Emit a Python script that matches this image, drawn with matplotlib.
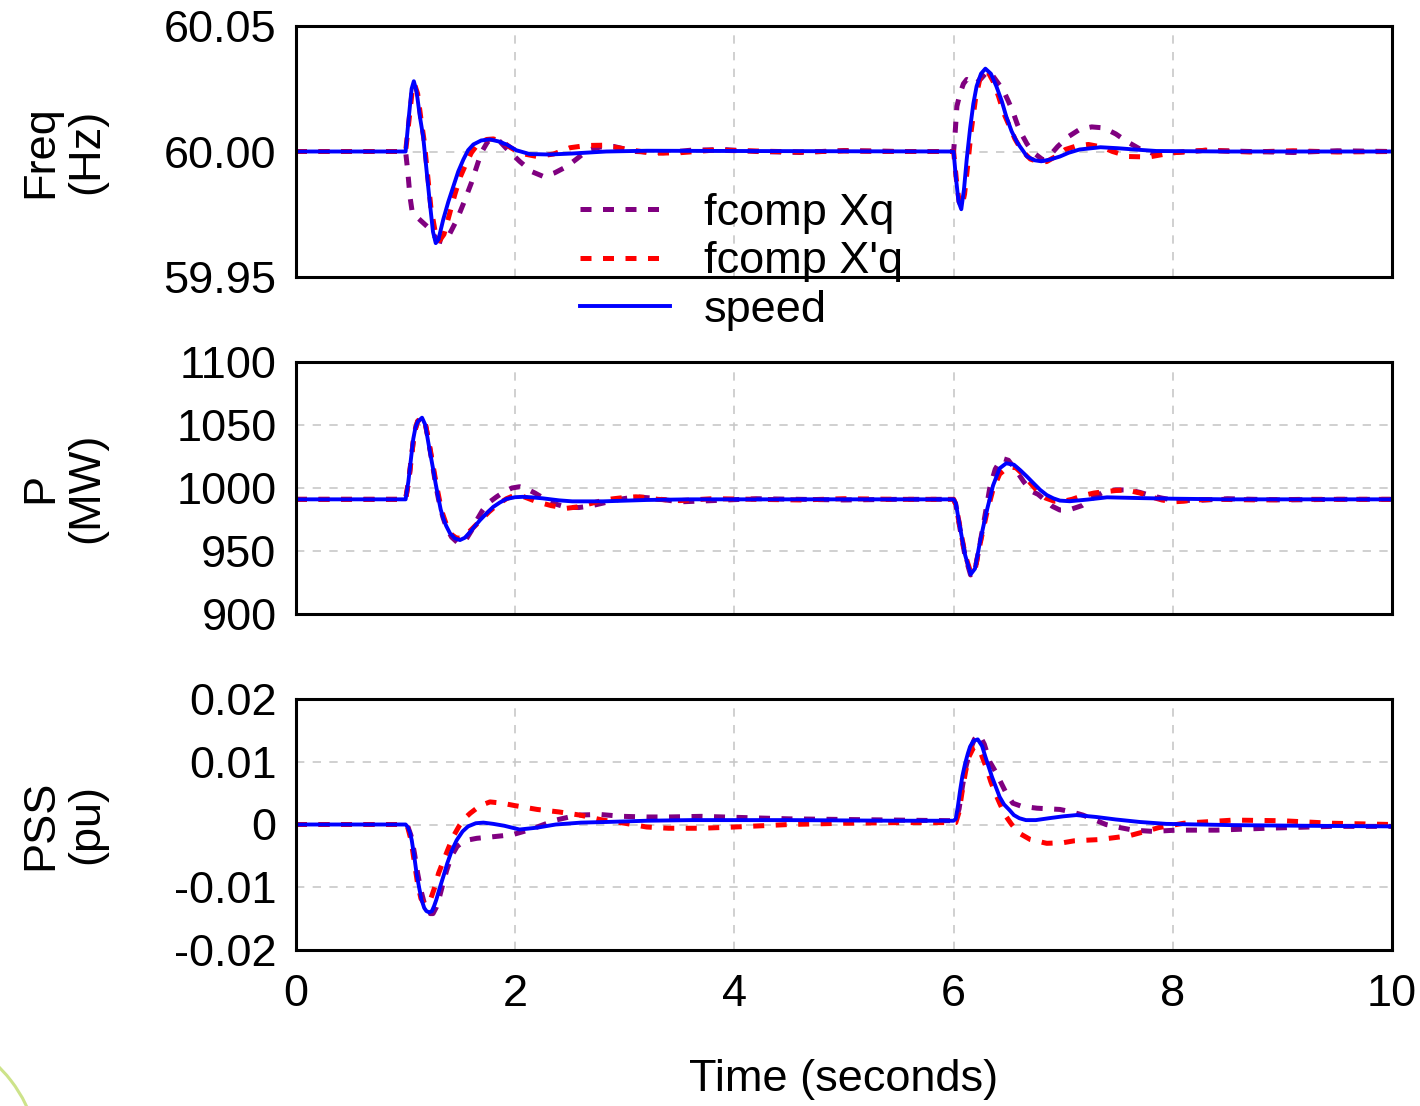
import matplotlib.pyplot as plt
import matplotlib.patches as mpatches
from matplotlib.transforms import IdentityTransform
import numpy as np

# (time [s], value) pairs
freq_xq = [(0, 60.0), (1.0, 60.0), (1.02, 59.992), (1.04, 59.982), (1.06, 59.976), (1.10, 59.974),
           (1.15, 59.972), (1.20, 59.970), (1.25, 59.967), (1.30, 59.9645), (1.34, 59.964), (1.40, 59.967),
           (1.47, 59.973), (1.53, 59.9795), (1.60, 59.9875), (1.69, 59.9995), (1.75, 60.004), (1.80, 60.005),
           (1.86, 60.004), (1.92, 60.0012), (2.04, 59.9961), (2.15, 59.992), (2.26, 59.990), (2.36, 59.9915),
           (2.47, 59.994), (2.56, 59.997), (2.66, 60.0005), (2.78, 60.0018), (2.9, 60.002), (3.1, 60.0),
           (3.35, 59.9995), (3.6, 60.0005), (3.9, 60.0008), (4.2, 60.0), (4.6, 59.9996), (5.0, 60.0004),
           (5.5, 60.0), (6.0, 60.0),
           (6.015, 60.008), (6.03, 60.018), (6.06, 60.0233), (6.09, 60.027), (6.12, 60.0287), (6.16, 60.028),
           (6.2, 60.027), (6.25, 60.029), (6.31, 60.032), (6.36, 60.030), (6.41, 60.027), (6.45, 60.0247),
           (6.50, 60.020), (6.54, 60.016), (6.58, 60.011), (6.62, 60.007), (6.67, 60.003), (6.73, 59.9995),
           (6.82, 59.9965), (6.88, 59.9985), (6.95, 60.002), (7.05, 60.006), (7.15, 60.0088), (7.26, 60.0098),
           (7.37, 60.0094), (7.48, 60.007), (7.58, 60.004), (7.7, 60.001), (7.8, 59.9995), (8.0, 59.9995),
           (8.3, 60.0005), (8.7, 60.0), (9.1, 59.9996), (9.5, 60.0003), (10.0, 60.0)]
freq_xpq = [(0, 60.0), (1.0, 60.0), (1.03, 60.012), (1.06, 60.024), (1.08, 60.027), (1.11, 60.023),
            (1.14, 60.013), (1.17, 60.004), (1.20, 59.991), (1.23, 59.978), (1.27, 59.968), (1.31, 59.9645),
            (1.35, 59.967), (1.40, 59.975), (1.45, 59.983), (1.50, 59.990), (1.55, 59.995), (1.60, 59.9995),
            (1.66, 60.003), (1.74, 60.0048), (1.80, 60.005), (1.88, 60.004), (1.96, 60.0015), (2.05, 59.9993),
            (2.2, 59.998), (2.35, 59.999), (2.50, 60.0015), (2.65, 60.0024), (2.8, 60.0025), (3.0, 60.001),
            (3.25, 59.9993), (3.5, 59.9995), (3.8, 60.0005), (4.2, 60.0002), (4.6, 59.9998), (5.0, 60.0002),
            (5.5, 60.0), (6.0, 60.0),
            (6.025, 59.989), (6.05, 59.980), (6.075, 59.978), (6.10, 59.983), (6.13, 59.995), (6.16, 60.008),
            (6.20, 60.021), (6.24, 60.029), (6.28, 60.032), (6.31, 60.032), (6.36, 60.028), (6.41, 60.022),
            (6.46, 60.015), (6.51, 60.010), (6.56, 60.005), (6.62, 60.0005), (6.70, 59.997), (6.78, 59.9958),
            (6.85, 59.996), (6.93, 59.998), (7.02, 60.0008), (7.12, 60.0022), (7.23, 60.0028), (7.35, 60.0018),
            (7.45, 60.0), (7.6, 59.998), (7.78, 59.9978), (8.0, 59.9995), (8.3, 60.0005), (8.7, 59.9998),
            (9.1, 60.0003), (9.5, 59.9998), (10.0, 60.0)]
freq_speed = [(0, 60.0), (1.0, 60.0), (1.03, 60.014), (1.055, 60.025), (1.075, 60.028), (1.10, 60.024),
              (1.13, 60.014), (1.16, 60.006), (1.19, 59.993), (1.22, 59.980), (1.25, 59.968), (1.275, 59.9635),
              (1.30, 59.965), (1.344, 59.973), (1.39, 59.980), (1.435, 59.986), (1.48, 59.992), (1.527, 59.9968),
              (1.57, 60.0005), (1.618, 60.0028), (1.69, 60.0044), (1.77, 60.0048), (1.85, 60.004), (1.92, 60.0028),
              (2.01, 60.0005), (2.13, 59.999), (2.31, 59.9988), (2.52, 59.9992), (2.83, 60.0), (3.2, 60.0003),
              (4.0, 60.0002), (5.0, 60.0001), (6.0, 60.0),
              (6.02, 59.99), (6.045, 59.980), (6.07, 59.977), (6.095, 59.985), (6.12, 59.997), (6.15, 60.009),
              (6.18, 60.019), (6.21, 60.026), (6.25, 60.031), (6.29, 60.033), (6.34, 60.031), (6.39, 60.026),
              (6.44, 60.020), (6.48, 60.014), (6.53, 60.008), (6.58, 60.0036), (6.67, 59.998), (6.74, 59.9965),
              (6.80, 59.9961), (6.88, 59.9968), (6.97, 59.998), (7.05, 59.9995), (7.15, 60.0008), (7.34, 60.0017),
              (7.50, 60.0013), (7.65, 60.0008), (7.85, 60.0002), (8.5, 60.0), (10.0, 60.0)]

p_xq = [(0, 991), (1.0, 991), (1.03, 1006), (1.05, 1022), (1.07, 1037), (1.09, 1047), (1.11, 1053), (1.15, 1056),
        (1.18, 1051), (1.21, 1037), (1.25, 1016), (1.28, 1000), (1.31, 987), (1.34, 977), (1.375, 968), (1.42, 961),
        (1.47, 957), (1.51, 956), (1.55, 959), (1.60, 966), (1.65, 974.6), (1.70, 982), (1.76, 988.5), (1.83, 993),
        (1.90, 997), (1.97, 1000), (2.04, 1001), (2.10, 999.5), (2.18, 996), (2.26, 991.8), (2.36, 987.5),
        (2.47, 984.6), (2.58, 984.5), (2.68, 985.6), (2.8, 988), (2.95, 991), (3.1, 993), (3.25, 992), (3.5, 989),
        (3.8, 990), (4.2, 991.5), (4.6, 991), (5.0, 990.5), (5.5, 991), (6.0, 991),
        (6.02, 987), (6.06, 967), (6.105, 946), (6.155, 931), (6.20, 937), (6.245, 958), (6.29, 980), (6.33, 1000),
        (6.38, 1015), (6.44, 1023.6), (6.50, 1022), (6.57, 1014), (6.64, 1005), (6.71, 997.5), (6.77, 995),
        (6.84, 990), (6.90, 985.5), (6.97, 982.5), (7.05, 982.5), (7.17, 986), (7.27, 992), (7.37, 997),
        (7.48, 998.5), (7.6, 998.4), (7.7, 996.5), (7.8, 994), (7.9, 992), (8.0, 990.5), (8.2, 990),
        (8.5, 991.5), (9.0, 990.5), (9.5, 991), (10.0, 991)]
p_xpq = [(0, 991), (1.0, 991), (1.03, 1007), (1.05, 1022), (1.07, 1037), (1.09, 1047), (1.11, 1053), (1.15, 1056),
         (1.18, 1051), (1.21, 1038), (1.25, 1018), (1.28, 1003), (1.31, 990), (1.34, 979), (1.38, 969), (1.42, 963),
         (1.46, 960.5), (1.50, 960), (1.54, 962), (1.6, 967), (1.68, 974), (1.76, 981), (1.84, 987), (1.92, 991.5),
         (2.0, 994.4), (2.08, 993), (2.2, 989), (2.33, 986), (2.47, 983.9), (2.57, 985), (2.66, 987), (2.77, 989.5),
         (2.88, 991.3), (3.0, 992.5), (3.1, 993), (3.2, 992.5), (3.3, 991), (3.5, 990), (3.8, 991.5), (4.2, 991),
         (4.6, 990.5), (5.0, 991.5), (5.5, 991), (6.0, 991),
         (6.02, 987), (6.06, 968), (6.105, 947), (6.16, 932), (6.20, 937), (6.245, 957), (6.30, 979), (6.36, 999),
         (6.42, 1011), (6.50, 1017), (6.57, 1016), (6.63, 1011), (6.70, 1004), (6.77, 997), (6.84, 992),
         (6.92, 989.5), (7.0, 989.5), (7.08, 991), (7.18, 994), (7.28, 996), (7.37, 997), (7.48, 998),
         (7.58, 998.4), (7.7, 996), (7.8, 993), (7.9, 990.5), (8.0, 989), (8.1, 989.5), (8.2, 990.5), (8.4, 991),
         (8.8, 990.5), (9.2, 991), (9.6, 991), (10.0, 991)]
p_speed = [(0, 991), (1.0, 991), (1.025, 1005), (1.05, 1024), (1.07, 1039), (1.09, 1048), (1.11, 1052.6),
           (1.15, 1055.8), (1.18, 1050), (1.206, 1036.7), (1.23, 1025), (1.25, 1015.6), (1.275, 1003),
           (1.30, 991.8), (1.32, 983), (1.344, 976), (1.37, 970), (1.405, 964), (1.45, 960), (1.496, 958.7),
           (1.54, 960.5), (1.588, 965), (1.63, 969.5), (1.68, 974.6), (1.74, 980), (1.80, 985), (1.86, 988.5),
           (1.92, 991.3), (2.0, 992.7), (2.07, 993), (2.15, 992.6), (2.25, 991.8), (2.4, 990.2), (2.52, 989.4),
           (2.8, 989.4), (3.2, 990.5), (3.6, 991), (6.0, 991),
           (6.02, 988), (6.06, 968), (6.105, 946.8), (6.156, 931.5), (6.195, 936), (6.24, 957), (6.30, 981),
           (6.36, 1002), (6.42, 1015.6), (6.48, 1019.6), (6.55, 1018.5), (6.61, 1014), (6.67, 1009),
           (6.73, 1003.7), (6.79, 998.5), (6.85, 994.4), (6.91, 991.8), (6.97, 990), (7.06, 989.5),
           (7.22, 990.8), (7.4, 992.6), (7.7, 992), (8.0, 991.5), (8.5, 991), (10.0, 991)]

pss_xq = [(0, 0), (1.0, 0), (1.02, -0.0003), (1.05, -0.0018), (1.08, -0.0045), (1.11, -0.0078), (1.14, -0.0105),
          (1.17, -0.0125), (1.20, -0.0137), (1.225, -0.0142), (1.25, -0.0142), (1.28, -0.0132), (1.31, -0.0115),
          (1.34, -0.0095), (1.375, -0.0073), (1.42, -0.005), (1.47, -0.0035), (1.52, -0.0028), (1.56, -0.0025),
          (1.65, -0.0022), (1.77, -0.002), (1.88, -0.0018), (1.98, -0.0016), (2.1, -0.001), (2.2, -0.0004),
          (2.37, 0.0007), (2.57, 0.0015), (2.77, 0.0016), (2.98, 0.0013), (3.2, 0.0012), (3.4, 0.0012),
          (3.7, 0.0013), (4.1, 0.0011), (4.5, 0.0009), (5.0, 0.0008), (5.5, 0.0007), (6.0, 0.0006),
          (6.02, 0.0008), (6.05, 0.0025), (6.08, 0.006), (6.11, 0.009), (6.15, 0.0118), (6.19, 0.0136),
          (6.235, 0.0143), (6.28, 0.0128), (6.33, 0.0100), (6.38, 0.0085), (6.42, 0.0071), (6.48, 0.005),
          (6.54, 0.0034), (6.62, 0.0029), (6.76, 0.0026), (6.97, 0.0024), (7.08, 0.002), (7.18, 0.0015),
          (7.28, 0.0008), (7.39, 0.0), (7.52, -0.0005), (7.64, -0.0009), (7.82, -0.0011), (8.03, -0.0009),
          (8.4, -0.0009), (8.85, -0.0006), (9.45, -0.0003), (10.0, -0.0003)]
pss_xpq = [(0, 0), (1.0, 0), (1.02, -0.0005), (1.05, -0.0025), (1.08, -0.006), (1.11, -0.0095), (1.14, -0.0118),
           (1.17, -0.0126), (1.20, -0.0127), (1.23, -0.0118), (1.27, -0.0098), (1.30, -0.0078), (1.34, -0.006),
           (1.39, -0.0038), (1.435, -0.0019), (1.49, -0.0002), (1.54, 0.001), (1.59, 0.0018), (1.68, 0.003),
           (1.77, 0.0036), (1.88, 0.0034), (2.0, 0.003), (2.2, 0.0024), (2.4, 0.002), (2.59, 0.0015),
           (2.8, 0.0007), (3.0, 0.0002), (3.2, -0.0004), (3.4, -0.0006), (3.7, -0.0006), (4.0, -0.0004),
           (4.5, 0.0), (5.0, 0.0002), (5.5, 0.0003), (6.0, 0.0003),
           (6.02, 0.0003), (6.05, 0.002), (6.08, 0.0055), (6.11, 0.0085), (6.14, 0.0108), (6.18, 0.0122),
           (6.21, 0.0124), (6.25, 0.0113), (6.30, 0.009), (6.34, 0.0068), (6.38, 0.005), (6.42, 0.0034),
           (6.47, 0.0015), (6.53, 0.0), (6.6, -0.0014), (6.7, -0.0024), (6.85, -0.003), (7.0, -0.0029),
           (7.1, -0.0026), (7.33, -0.0024), (7.6, -0.0018), (7.75, -0.0011), (7.87, -0.0005), (8.1, 0.0002),
           (8.55, 0.0007), (9.0, 0.0006), (9.45, 0.0002), (10.0, 0.0)]
pss_speed = [(0, 0), (1.0, 0), (1.02, -0.0004), (1.04, -0.0013), (1.056, -0.0025), (1.08, -0.0052), (1.10, -0.0078),
             (1.125, -0.0102), (1.146, -0.012), (1.17, -0.0133), (1.19, -0.0138), (1.215, -0.014), (1.24, -0.0138),
             (1.26, -0.013), (1.28, -0.012), (1.31, -0.0102), (1.344, -0.0083), (1.38, -0.0062), (1.42, -0.0042),
             (1.466, -0.0025), (1.52, -0.0011), (1.57, -0.0003), (1.64, 0.0002), (1.71, 0.0003), (1.80, 0.0001),
             (1.9, -0.0002), (2.04, -0.0008), (2.2, -0.0005), (2.37, 0.0), (2.6, 0.0003), (2.83, 0.0004),
             (3.2, 0.0006), (3.6, 0.0007), (4.5, 0.0007), (5.5, 0.0006), (6.0, 0.0006),
             (6.02, 0.0009), (6.04, 0.003), (6.06, 0.0055), (6.08, 0.0077), (6.105, 0.0097), (6.13, 0.0113),
             (6.15, 0.0124), (6.18, 0.0133), (6.22, 0.01357), (6.26, 0.0125), (6.29, 0.0108), (6.32, 0.0092),
             (6.35, 0.0076), (6.385, 0.006), (6.42, 0.0044), (6.46, 0.0032), (6.51, 0.0023), (6.55, 0.0015),
             (6.6, 0.001), (6.66, 0.0007), (6.75, 0.0007), (6.87, 0.001), (7.0, 0.0013), (7.12, 0.0015),
             (7.3, 0.0012), (7.48, 0.0008), (7.7, 0.0004), (7.94, 0.0001), (8.55, -0.0001), (9.2, -0.0002),
             (10.0, -0.0003)]

series_labels = ['fcomp Xq', "fcomp X'q", 'speed']
x_ticks = [0, 2, 4, 6, 8, 10]

panels = [
    (26, 277, 'Freq\n(Hz)', (59.95, 60.05), [60.05, 60.00, 59.95], ['60.05', '60.00', '59.95'],
     [freq_xq, freq_xpq, freq_speed]),
    (362, 614, 'P\n(MW)', (900, 1100), [1100, 1050, 1000, 950, 900], ['1100', '1050', '1000', '950', '900'],
     [p_xq, p_xpq, p_speed]),
    (699, 950, 'PSS\n(pu)', (-0.02, 0.02), [0.02, 0.01, 0, -0.01, -0.02], ['0.02', '0.01', '0', '-0.01', '-0.02'],
     [pss_xq, pss_xpq, pss_speed]),
]

styles = [dict(color='#800080', lw=3.6, dashes=(2.2, 2.3)),
          dict(color='#ff0000', lw=3.6, dashes=(2.2, 2.3)),
          dict(color='#0000ff', lw=2.8)]

plt.rcParams['font.family'] = ['Liberation Sans', 'DejaVu Sans']
plt.rcParams['font.size'] = 32.5

W, H = 1420, 1106
fig = plt.figure(figsize=(W / 100, H / 100), dpi=100)
left, right = 296, 1392

axes = []
for top, bottom, ylabel, ylim, yticks, yticklabels, data in panels:
    ax = fig.add_axes([left / W, 1 - bottom / H, (right - left) / W, (bottom - top) / H])
    for d, st, lab in zip(data, styles, series_labels):
        t, v = np.array(d).T
        ax.plot(t, v, label=lab, **st)
    ax.set_xlim(0, 10)
    ax.set_ylim(*ylim)
    ax.set_xticks(x_ticks)
    ax.set_yticks(yticks)
    ax.set_yticklabels(yticklabels)
    ax.grid(True, color='#c8c8c8', linestyle=(0, (5, 5)), linewidth=1.2)
    ax.tick_params(axis='y', length=0, pad=14)
    ax.tick_params(axis='x', length=0, pad=17)
    for s in ax.spines.values():
        s.set_linewidth(2.2)
    if top != 699:
        ax.tick_params(labelbottom=False)
    fig.text(64 / W, 1 - (top + bottom) / 2 / H, ylabel, rotation=90, ha='center', va='center',
             multialignment='center', linespacing=1.15)
    axes.append(ax)

fig.text(844 / W, 1 - 1080 / H, 'Time (seconds)', ha='center', va='center')

axes[0].legend(loc='center left', bbox_to_anchor=(580 / W, 1 - 262 / H), bbox_transform=fig.transFigure,
               frameon=False, borderpad=0, borderaxespad=0, handlelength=2.0, handletextpad=0.75,
               labelspacing=0.17)

# faint decorative arc in the lower-left corner of the original slide
arc = mpatches.Arc((-100, -60), 280, 280, theta1=15, theta2=60, color='#cde38a', lw=2.2,
                   transform=IdentityTransform())
fig.patches.append(arc)

fig.savefig('out.png', dpi=100)
